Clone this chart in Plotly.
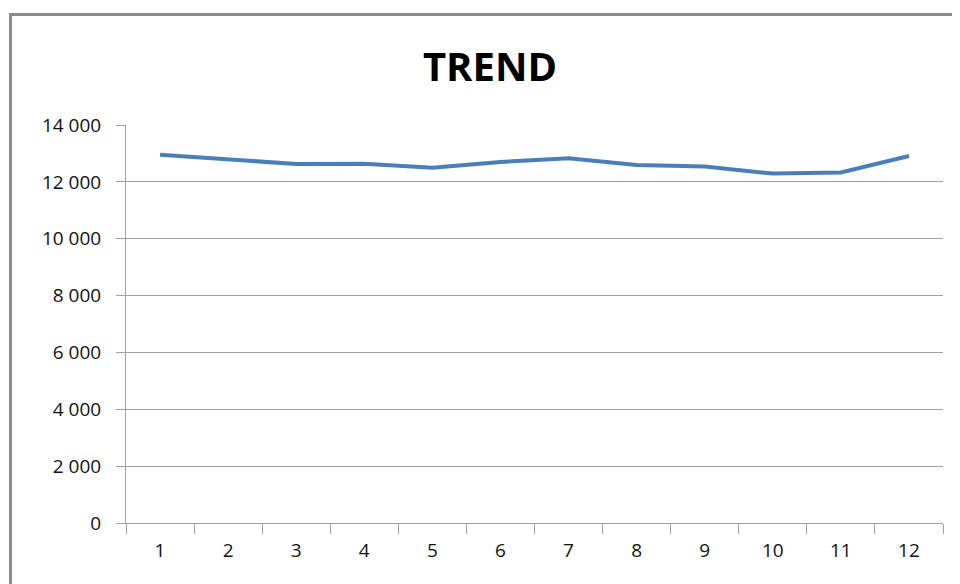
import plotly.graph_objects as go

months = ["1", "2", "3", "4", "5", "6", "7", "8", "9", "10", "11", "12"]
values = [12950, 12790, 12630, 12640, 12500, 12700, 12830, 12590, 12540, 12290, 12330, 12910]
y_ticks = [0, 2000, 4000, 6000, 8000, 10000, 12000, 14000]

fig = go.Figure()
fig.add_trace(go.Scatter(
    x=months, y=values, mode="lines",
    line=dict(color="#4a7ebb", width=4),
    showlegend=False,
))

# page body has an 8px margin, so the figure is sized to fit the viewport
OFF = 8
W, H = 960 - OFF, 584 - OFF
ml, mr, mt, mb = 126 - OFF, 17, 125 - OFF, 61
pw = W - ml - mr
ph = H - mt - mb

def px_x(p):
    return (p - OFF - ml) / pw

def px_y(p):
    return (H - mb - (p - OFF)) / ph

fig.update_layout(
    width=W, height=H,
    margin=dict(l=ml, r=mr, t=mt, b=mb),
    paper_bgcolor="white", plot_bgcolor="white",
    separators=". ",
    font=dict(family="Open Sans", size=19, color="#111111"),
    title=dict(text="<b>TREND</b>", x=px_x(490), xanchor="center", xref="paper",
               y=1 - (67 - OFF) / H, yanchor="middle",
               font=dict(family="Open Sans", size=40, color="#000000")),
    xaxis=dict(
        type="category", tickson="boundaries", range=[-0.5, 11.5],
        ticks="outside", ticklen=10, tickcolor="#a0a0a0", tickwidth=1,
        showline=True, linecolor="#a0a0a0", linewidth=1,
        showgrid=False, zeroline=False,
        ticklabelstandoff=10,
    ),
    yaxis=dict(
        range=[0, 14000], tickvals=y_ticks, tickformat=",d",
        ticks="outside", ticklen=9, tickcolor="#a0a0a0", tickwidth=1,
        showline=True, linecolor="#a0a0a0", linewidth=1,
        showgrid=True, gridcolor="#a0a0a0", gridwidth=1,
        zeroline=False,
        ticklabelstandoff=11,
    ),
    shapes=[dict(
        type="rect", xref="paper", yref="paper",
        x0=px_x(10.5), x1=px_x(1200), y0=px_y(1200), y1=px_y(14.5),
        line=dict(color="#8a8a8a", width=3), layer="above",
    )],
)

fig.write_html("out.html")
